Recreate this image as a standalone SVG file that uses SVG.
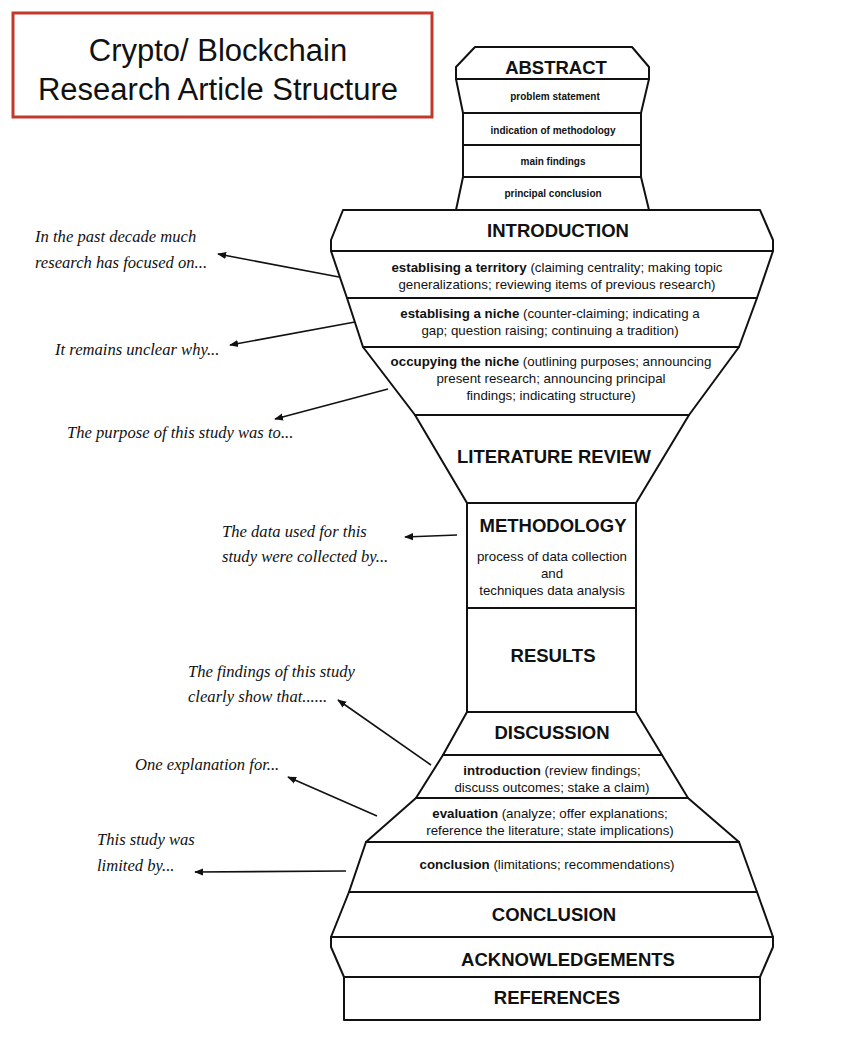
<svg xmlns="http://www.w3.org/2000/svg" width="850" height="1061" viewBox="0 0 850 1061">
<style>
.s{fill:#fff;stroke:#111;stroke-width:2;stroke-linejoin:round}
.h{font-family:"Liberation Sans",Arial,sans-serif;font-weight:bold;font-size:18.5px;fill:#111;text-anchor:middle}
.sm{font-family:"Liberation Sans",Arial,sans-serif;font-weight:bold;font-size:10px;fill:#111;text-anchor:middle}
.b{font-family:"Liberation Sans",Arial,sans-serif;font-size:13.3px;fill:#111;text-anchor:middle}
.b tspan.k{font-weight:bold}
.a{font-family:"Liberation Serif","Times New Roman",serif;font-style:italic;font-size:16.6px;fill:#111}
.c{stroke:#111;stroke-width:1.6;fill:none;marker-end:url(#ar)}
</style>
<defs><marker id="ar" viewBox="0 0 10 10" refX="9" refY="5" markerWidth="9" markerHeight="9" markerUnits="userSpaceOnUse" orient="auto"><path d="M0,1 L10,5 L0,9 Z" fill="#111"/></marker></defs>
<rect width="850" height="1061" fill="#fff"/>
<g id="title"><rect x="13" y="13" width="419" height="104" fill="#fff" stroke="#c0392b" stroke-width="3"/>
<text x="218" y="61" font-family="Liberation Sans,Arial,sans-serif" font-size="31" text-anchor="middle" fill="#111">Crypto/ Blockchain</text>
<text x="218" y="100" font-family="Liberation Sans,Arial,sans-serif" font-size="31" text-anchor="middle" fill="#111">Research Article Structure</text></g>
<g id="abstract"><path class="s" d="M475,47 L632,47 L649,67 L649,79 L456,79 L456,67 Z"/><text class="h" x="556" y="74">ABSTRACT</text></g>
<g id="problem"><path class="s" d="M456,79 L649,79 L641,113 L463,113 Z"/><text class="sm" x="555" y="100">problem statement</text></g>
<g id="indication"><rect class="s" x="463" y="113" width="178" height="32"/><text class="sm" x="553" y="134">indication of methodology</text></g>
<g id="mainfindings"><rect class="s" x="463" y="145" width="178" height="32"/><text class="sm" x="553" y="165">main findings</text></g>
<g id="principal"><path class="s" d="M463,177 L641,177 L649,210 L456,210 Z"/><text class="sm" x="553" y="197">principal conclusion</text></g>
<g id="introduction"><path class="s" d="M343,210 L760,210 L773,240 L773,251 L331,251 L331,240 Z"/><text class="h" x="558" y="237">INTRODUCTION</text></g>
<g id="territory"><path class="s" d="M331,251 L773,251 L757,298 L347,298 Z"/><text class="b" x="557" y="272"><tspan class="k">establising a territory</tspan> (claiming centrality; making topic</text><text class="b" x="557" y="289">generalizations; reviewing items of previous research)</text></g>
<g id="niche"><path class="s" d="M347,298 L757,298 L739,347 L363,347 Z"/><text class="b" x="550" y="318"><tspan class="k">establising a niche</tspan> (counter-claiming; indicating a</text><text class="b" x="550" y="335">gap; question raising; continuing a tradition)</text></g>
<g id="occupying"><path class="s" d="M363,347 L739,347 L689,415 L415,415 Z"/><text class="b" x="551" y="366"><tspan class="k">occupying the niche</tspan> (outlining purposes; announcing</text><text class="b" x="551" y="383">present research; announcing principal</text><text class="b" x="551" y="400">findings; indicating structure)</text></g>
<g id="literature"><path class="s" d="M415,415 L689,415 L636,503 L467,503 Z"/><text class="h" x="554" y="463">LITERATURE REVIEW</text></g>
<g id="methodology"><rect class="s" x="467" y="503" width="169" height="105"/><text class="h" x="553" y="532">METHODOLOGY</text><text class="b" x="552" y="561">process of data collection</text><text class="b" x="552" y="578">and</text><text class="b" x="552" y="595">techniques data analysis</text></g>
<g id="results"><rect class="s" x="467" y="608" width="169" height="104"/><text class="h" x="553" y="662">RESULTS</text></g>
<g id="discussion"><path class="s" d="M467,712 L636,712 L662,755 L443,755 Z"/><text class="h" x="552" y="739">DISCUSSION</text></g>
<g id="dintro"><path class="s" d="M443,755 L662,755 L688,798 L416,798 Z"/><text class="b" x="552" y="775"><tspan class="k">introduction</tspan> (review findings;</text><text class="b" x="552" y="792">discuss outcomes; stake a claim)</text></g>
<g id="evaluation"><path class="s" d="M416,798 L688,798 L739,842 L366,842 Z"/><text class="b" x="550" y="818"><tspan class="k">evaluation</tspan> (analyze; offer explanations;</text><text class="b" x="550" y="835">reference the literature; state implications)</text></g>
<g id="dconclusion"><path class="s" d="M366,842 L739,842 L757,892 L349,892 Z"/><text class="b" x="547" y="869"><tspan class="k">conclusion</tspan> (limitations; recommendations)</text></g>
<g id="conclusion"><path class="s" d="M349,892 L757,892 L773,937 L331,937 Z"/><text class="h" x="554" y="921">CONCLUSION</text></g>
<g id="acknowledgements"><path class="s" d="M331,937 L773,937 L773,947 L760,977 L344,977 L331,947 Z"/><text class="h" x="568" y="966">ACKNOWLEDGEMENTS</text></g>
<g id="references"><rect class="s" x="344" y="977" width="416" height="43"/><text class="h" x="557" y="1004">REFERENCES</text></g>
<g id="annotations">
<text class="a" x="35" y="242">In the past decade much</text><text class="a" x="35" y="268">research has focused on...</text>
<text class="a" x="55" y="355">It remains unclear why...</text>
<text class="a" x="67" y="438">The purpose of this study was to...</text>
<text class="a" x="222" y="537">The data used for this</text><text class="a" x="222" y="562">study were collected by...</text>
<text class="a" x="188" y="677">The findings of this study</text><text class="a" x="188" y="702">clearly show that......</text>
<text class="a" x="135" y="770">One explanation for...</text>
<text class="a" x="97" y="845">This study was</text><text class="a" x="97" y="871">limited by...</text>
</g>
<g id="connectors">
<line class="c" x1="339" y1="277" x2="218" y2="254"/>
<line class="c" x1="355" y1="322" x2="230" y2="345"/>
<line class="c" x1="388" y1="389" x2="275" y2="419"/>
<line class="c" x1="457" y1="535" x2="405" y2="537"/>
<line class="c" x1="431" y1="765" x2="338" y2="700"/>
<line class="c" x1="377" y1="816" x2="288" y2="777"/>
<line class="c" x1="346" y1="871" x2="195" y2="872"/>
</g>
</svg>
